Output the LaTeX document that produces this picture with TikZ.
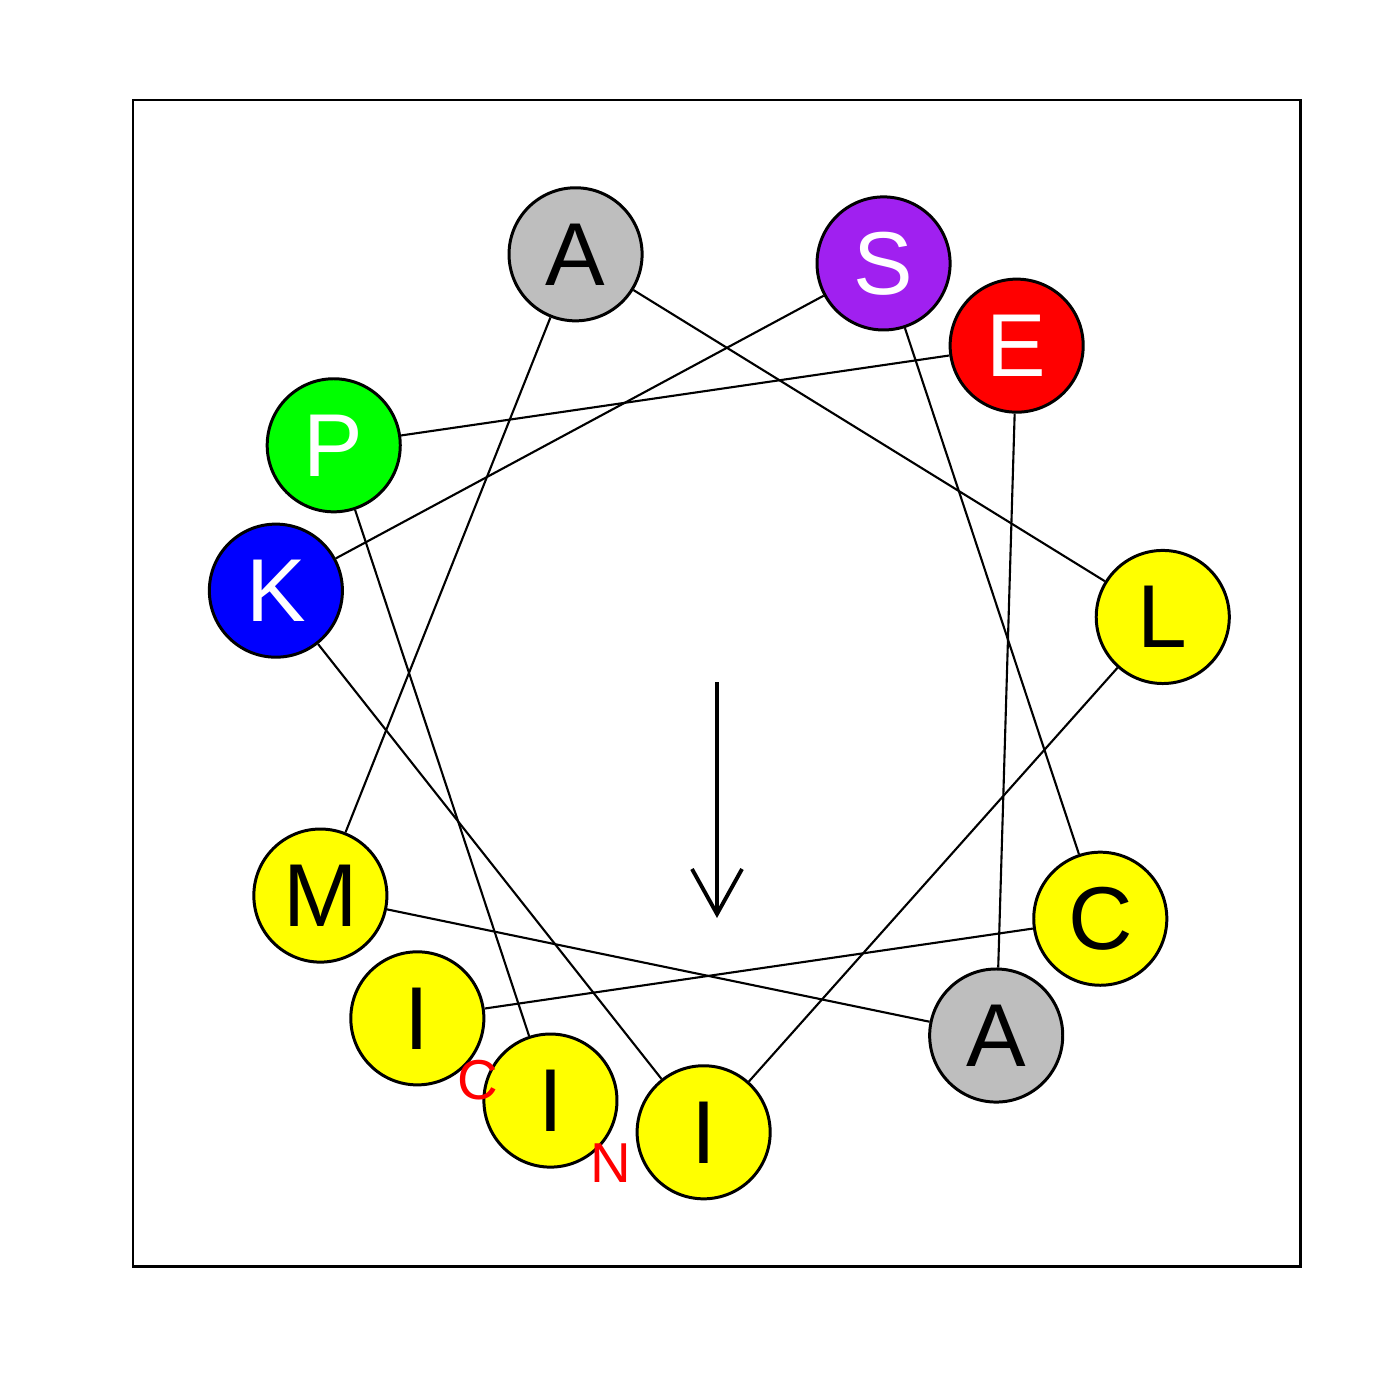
\documentclass[tikz,border=0pt]{standalone}
\usepackage{fontspec}
\setmainfont{Liberation Sans}
\usetikzlibrary{arrows.meta}
\definecolor{rgray}{RGB}{190,190,190}
\definecolor{rpurple}{RGB}{160,32,240}
\definecolor{ryellow}{RGB}{255,255,0}
\definecolor{rgreen}{RGB}{0,255,0}
\definecolor{rred}{RGB}{255,0,0}
\definecolor{rblue}{RGB}{0,0,255}
\begin{document}
\begin{tikzpicture}[x=0.01cm,y=-0.01cm,
  res/.style={circle,draw=black,line width=0.85pt,minimum size=1.33cm,inner sep=0pt,
    font=\fontsize{25.4}{30}\selectfont},
  hyd/.style={res,fill=ryellow,text=black},
  neu/.style={res,fill=rgray,text=black},
  pol/.style={res,fill=rpurple,text=white},
  acid/.style={res,fill=rred,text=white},
  base/.style={res,fill=rblue,text=white},
  pro/.style={res,fill=rgreen,text=white},
  link/.style={line width=0.6pt},
  term/.style={text=rred,inner sep=0pt,font=\fontsize{16}{19}\selectfont}]
\useasboundingbox (0,0) rectangle (1400,1400);
\def\cx{717}\def\cy{682}\def\R{450.5}
\draw[line width=0.85pt] (133,100) rectangle (1300,1266);
\node[hyd]  (r0)  at ({\cx+\R*cos(228.3)},{\cy-\R*sin(228.3)}) {I};
\node[hyd]  (r1)  at ({\cx+\R*cos(328.3)},{\cy-\R*sin(328.3)}) {C};
\node[pol]  (r2)  at ({\cx+\R*cos(68.3)},{\cy-\R*sin(68.3)}) {S};
\node[base] (r3)  at ({\cx+\R*cos(168.3)},{\cy-\R*sin(168.3)}) {K};
\node[hyd]  (r4)  at ({\cx+\R*cos(268.3)},{\cy-\R*sin(268.3)}) {I};
\node[hyd]  (r5)  at ({\cx+\R*cos(8.3)},{\cy-\R*sin(8.3)}) {L};
\node[neu]  (r6)  at ({\cx+\R*cos(108.3)},{\cy-\R*sin(108.3)}) {A};
\node[hyd]  (r7)  at ({\cx+\R*cos(208.3)},{\cy-\R*sin(208.3)}) {M};
\node[neu]  (r8)  at ({\cx+\R*cos(308.3)},{\cy-\R*sin(308.3)}) {A};
\node[acid] (r9)  at ({\cx+\R*cos(48.3)},{\cy-\R*sin(48.3)}) {E};
\node[pro]  (r10) at ({\cx+\R*cos(148.3)},{\cy-\R*sin(148.3)}) {P};
\node[hyd]  (r11) at ({\cx+\R*cos(248.3)},{\cy-\R*sin(248.3)}) {I};
\draw[link] (r0) -- (r1);
\draw[link] (r1) -- (r2);
\draw[link] (r2) -- (r3);
\draw[link] (r3) -- (r4);
\draw[link] (r4) -- (r5);
\draw[link] (r5) -- (r6);
\draw[link] (r6) -- (r7);
\draw[link] (r7) -- (r8);
\draw[link] (r8) -- (r9);
\draw[link] (r9) -- (r10);
\draw[link] (r10) -- (r11);
\node[term] (cterm) at (478,1080) {C};
\node[term] (nterm) at (611,1163) {N};
\coordinate (mstart) at (717,682);
\coordinate (mend) at (717,918);
\draw[line width=1.1pt,-{Straight Barb[length=4.5mm,width=5mm]}] (mstart) -- (mend);
\end{tikzpicture}
\end{document}
